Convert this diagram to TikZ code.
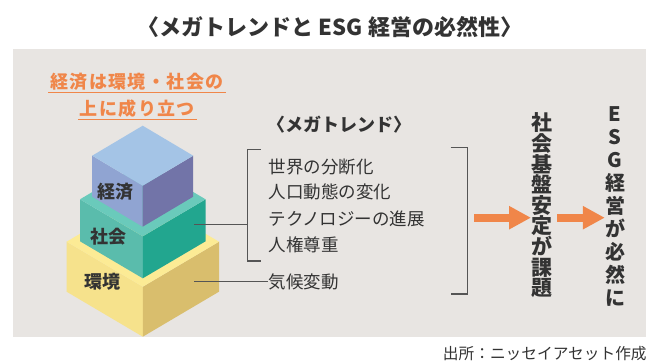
\documentclass[tikz,border=0pt]{standalone}
\usepackage{fontspec}
\setmainfont{Noto Sans CJK JP}
\usetikzlibrary{positioning,arrows.meta}
\definecolor{mypanel}{HTML}{E8E5E2}
\definecolor{myink}{HTML}{333333}
\definecolor{myline}{HTML}{555555}
\definecolor{myorange}{HTML}{F08649}
\definecolor{bluetop}{HTML}{A4C4E6}
\definecolor{blueleft}{HTML}{90A4D2}
\definecolor{blueright}{HTML}{7274A8}
\definecolor{greentop}{HTML}{6ACABB}
\definecolor{greenleft}{HTML}{5ABCAC}
\definecolor{greenright}{HTML}{22A68F}
\definecolor{yellowtop}{HTML}{FCEB95}
\definecolor{yellowleft}{HTML}{F6E28C}
\definecolor{yellowright}{HTML}{D9BE6D}

% block: centre x, y of side corners, half width, half depth, height, colour prefix
\newcommand{\isoblock}[6]{%
  \fill[#6left] (#1-#3,#2) -- (#1,#2+#4) -- (#1,#2+#4+#5) -- (#1-#3,#2+#5) -- cycle;
  \fill[#6right] (#1+#3,#2) -- (#1,#2+#4) -- (#1,#2+#4+#5) -- (#1+#3,#2+#5) -- cycle;
  \fill[#6top] (#1,#2-#4) -- (#1+#3,#2) -- (#1,#2+#4) -- (#1-#3,#2) -- cycle;
}

\tikzset{
  trend/.style={anchor=west, inner sep=0pt, text=myink, font=\fontsize{17.5}{20}\selectfont},
  layer/.style={inner sep=0pt, text=myink, font=\fontsize{18}{20}\selectfont\bfseries},
  column/.style={inner sep=0pt, align=center, text=myink},
  bigarrow/.style={draw=myorange, line width=7.7pt, -{Triangle[length=22pt,width=22pt]}},
  bracket/.style={draw=myline, line width=1.1pt},
}

\begin{document}
\begin{tikzpicture}[x=1pt, y=-1pt]
\useasboundingbox (0,0) rectangle (646,364);

% grey panel
\fill[mypanel] (13,49) rectangle (646,337);

% heading
\node[text=myink, font=\fontsize{22}{26}\selectfont\bfseries] (title) at (330,27.5)
  {〈メガトレンドと ESG 経営の必然性〉};

% orange caption
\node[inner sep=0pt, text=myorange, font=\fontsize{18}{20}\selectfont\bfseries\addfontfeatures{LetterSpace=8}] (cap1) at (137,81.7) {経済は環境・社会の};
\node[inner sep=0pt, text=myorange, font=\fontsize{18}{20}\selectfont\bfseries\addfontfeatures{LetterSpace=8}] (cap2) at (137.3,109) {上に成り立つ};
\draw[myorange, line width=1.3pt] (48,92.3) -- (226,92.3);
\draw[myorange, line width=1.3pt] (78,119.3) -- (196.7,119.3);

% stacked blocks
\isoblock{142.8}{241.7}{76.2}{45}{50}{yellow}
\isoblock{142.8}{199.3}{62.8}{37}{42}{green}
\isoblock{142.7}{155.7}{50.5}{30}{41}{blue}
\node[layer] (econ) at (115,191.7) {経済};
\node[layer] (soc) at (108.3,236.7) {社会};
\node[layer] (env) at (102.3,281.7) {環境};

% mega trends
\node[text=myink, font=\fontsize{18}{20}\selectfont\bfseries] (mt) at (339,125) {〈メガトレンド〉};
\node[trend] (t1) at (268.3,166.7) {世界の分断化};
\node[trend] (t2) at (268.3,192.3) {人口動態の変化};
\node[trend] (t3) at (268.3,219) {テクノロジーの進展};
\node[trend] (t4) at (268.3,245) {人権尊重};
\node[trend] (t5) at (268.3,281.7) {気候変動};

% brackets
\draw[bracket] (260.7,149.3) -- (247.3,149.3) -- (247.3,261) -- (260.7,261);
\draw[bracket] (450.7,147.3) -- (467.7,147.3) -- (467.7,294) -- (450.7,294);

% leaders from the blocks
\coordinate (socface) at (194,224.3);
\coordinate (lbrack) at (247.3,224.3);
\coordinate (envface) at (194,281.7);
\draw[bracket] (socface) -- (lbrack);
\draw[bracket] (envface) -- (t5.west);

% vertical conclusions
\node[column, font=\fontsize{21}{20.6}\selectfont\bfseries] (c1) at (541.7,205.5)
  {社\\会\\基\\盤\\安\\定\\が\\課\\題};
\node[column, font=\fontsize{20}{22.9}\selectfont\bfseries] (c2) at (615,206.5)
  {E\\S\\G\\経\\営\\が\\必\\然\\に};

% arrows
\coordinate (a1s) at (474,217.7);
\coordinate (a2s) at (557.3,217.7);
\draw[bigarrow] (a1s) -- (a1s -| c1.west);
\draw[bigarrow] (a2s) -- (a2s -| c2.west);

% source
\node[anchor=west, inner sep=0pt, text=myink, font=\fontsize{15.7}{18}\selectfont] (src) at (442.7,354) {出所：ニッセイアセット作成};

\end{tikzpicture}
\end{document}
